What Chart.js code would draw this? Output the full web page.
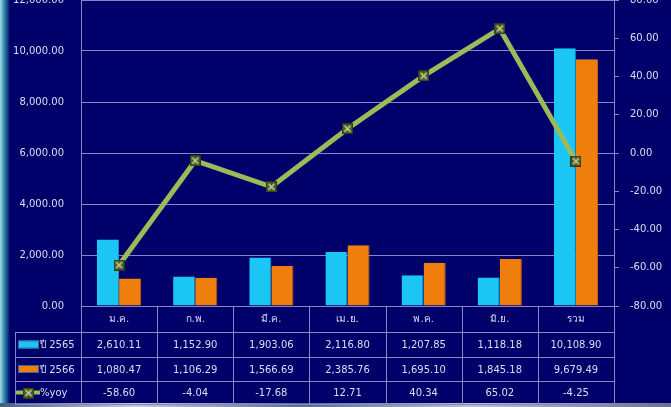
<!DOCTYPE html>
<html>
<head>
<meta charset="utf-8">
<script src="https://cdn.jsdelivr.net/npm/chart.js@4.4.1/dist/chart.umd.min.js"></script>
<style>
  html, body { margin: 0; padding: 0; }
  body { width: 671px; height: 407px; overflow: hidden; position: relative; background: #00006b; }
  #edge { position: absolute; left: 0; top: 0; width: 10px; height: 407px;
    background: linear-gradient(to right, #9fe0ec, #3a8fb0 40%, #0a3a80 80%, #00006b); }
  #bottom { position: absolute; left: 0; bottom: 0; width: 671px; height: 4px;
    background: linear-gradient(to right, #4a5a80, #c8c8d8 20%, #5a6a90 45%, #b8c0d0 70%, #6a7090); }
  #wrap { position: absolute; left: 0; top: -23px; width: 671px; height: 431px; }
</style>
</head>
<body>
<div id="edge"></div>
<div id="bottom"></div>
<div id="wrap"><canvas id="myChart"></canvas></div>
<script>
document.addEventListener('DOMContentLoaded', function(){
  var months = ['ม.ค.','ก.พ.','มี.ค.','เม.ย.','พ.ค.','มิ.ย.','รวม'];
  var y2565 = [2610.11, 1152.90, 1903.06, 2116.80, 1207.85, 1118.18, 10108.90];
  var y2566 = [1080.47, 1106.29, 1566.69, 2385.76, 1695.10, 1845.18, 9679.49];
  var yoy = [-58.60, -4.04, -17.68, 12.71, 40.34, 65.02, -4.25];
  var seriesNames = ['ปี 2565', 'ปี 2566', '%yoy'];

  var FONT = "'DejaVu Sans', 'Noto Sans', sans-serif";
  var textColor = '#dcdcf0';
  var lineColor = '#8585c8';

  function fmt(v) {
    return v.toLocaleString('en-US', {minimumFractionDigits: 2, maximumFractionDigits: 2});
  }

  // marker: dark square with a light X
  var mk = document.createElement('canvas');
  mk.width = 11; mk.height = 11;
  var m = mk.getContext('2d');
  m.fillStyle = '#4f5d2a';
  m.fillRect(0, 0, 11, 11);
  m.strokeStyle = '#2f3a16';
  m.strokeRect(0.5, 0.5, 10, 10);
  m.strokeStyle = '#c4d69a';
  m.lineWidth = 1.5;
  m.beginPath();
  m.moveTo(2.5, 2.5); m.lineTo(8.5, 8.5);
  m.moveTo(8.5, 2.5); m.lineTo(2.5, 8.5);
  m.stroke();

  // bar fill with a light top edge, like the original 3D bars
  function barFill(base, light) {
    return function(c) {
      var el = c.element;
      if (!el || el.y === undefined) return base;
      var g = c.chart.ctx.createLinearGradient(0, el.y, 0, el.y + 6);
      g.addColorStop(0, light);
      g.addColorStop(1, base);
      return g;
    };
  }

  var tablePlugin = {
    id: 'dataTable',
    afterDraw: function(chart) {
      var ctx = chart.ctx;
      var xs = chart.scales.x;
      var area = chart.chartArea;
      var n = months.length;
      var cw = (area.right - area.left) / n;
      var b = area.bottom;
      var rows = [b, b + 26, b + 51, b + 75, b + 98];
      var legendLeft = 15;
      ctx.save();
      ctx.strokeStyle = lineColor;
      ctx.lineWidth = 1;
      ctx.beginPath();
      for (var r = 1; r < rows.length; r++) {
        ctx.moveTo(legendLeft, rows[r] + 0.5);
        ctx.lineTo(area.right, rows[r] + 0.5);
      }
      for (var i = 0; i <= n; i++) {
        var vx = Math.round(area.left + i * cw) + 0.5;
        ctx.moveTo(vx, rows[0]);
        ctx.lineTo(vx, rows[4]);
      }
      ctx.moveTo(legendLeft + 0.5, rows[1]);
      ctx.lineTo(legendLeft + 0.5, rows[4]);
      ctx.stroke();

      ctx.fillStyle = textColor;
      ctx.font = '10px ' + FONT;
      ctx.textAlign = 'center';
      ctx.textBaseline = 'middle';
      var data = [y2565, y2566, yoy];
      for (var j = 0; j < n; j++) {
        var cx = xs.getPixelForValue(j);
        ctx.fillText(months[j], cx, (rows[0] + rows[1]) / 2);
        for (var k = 0; k < 3; k++) {
          ctx.fillText(fmt(data[k][j]), cx, (rows[k + 1] + rows[k + 2]) / 2 + 1);
        }
      }
      var cols = ['#1cc6f4', '#f07e0c'];
      for (var s = 0; s < 2; s++) {
        var my = (rows[s + 1] + rows[s + 2]) / 2;
        ctx.fillStyle = cols[s];
        ctx.fillRect(18, my - 4, 21, 8);
        ctx.strokeStyle = '#3a6a9a';
        ctx.strokeRect(18.5, my - 3.5, 20, 7);
      }
      var ly = (rows[3] + rows[4]) / 2;
      ctx.strokeStyle = '#9bbb59';
      ctx.lineWidth = 4;
      ctx.beginPath();
      ctx.moveTo(16, ly); ctx.lineTo(40, ly);
      ctx.stroke();
      ctx.drawImage(mk, 23, ly - 5);
      ctx.fillStyle = textColor;
      ctx.textAlign = 'left';
      for (var t = 0; t < 3; t++) {
        ctx.fillText(seriesNames[t], 40, (rows[t + 1] + rows[t + 2]) / 2 + 1);
      }
      ctx.restore();
    }
  };

  new Chart('myChart', {
    type: 'bar',
    data: {
      labels: months,
      datasets: [{
        label: seriesNames[0],
        data: y2565,
        backgroundColor: barFill('#1cc6f4', '#a8ecff'),
        borderColor: '#0e9ac8',
        borderWidth: {top: 0, left: 0, right: 1, bottom: 0},
        yAxisID: 'y',
        order: 2
      }, {
        label: seriesNames[1],
        data: y2566,
        backgroundColor: barFill('#f07e0c', '#ffc07a'),
        borderColor: '#c86008',
        borderWidth: {top: 0, left: 0, right: 1, bottom: 0},
        yAxisID: 'y',
        order: 2
      }, {
        type: 'line',
        label: seriesNames[2],
        data: yoy,
        borderColor: '#9bbb59',
        backgroundColor: '#9bbb59',
        borderWidth: 5,
        pointStyle: mk,
        pointRadius: 5,
        yAxisID: 'y1',
        tension: 0,
        fill: false,
        order: 0
      }]
    },
    options: {
      responsive: true,
      maintainAspectRatio: false,
      animation: false,
      layout: { padding: { left: 0, right: 0, top: 4, bottom: 102 } },
      datasets: { bar: { categoryPercentage: 0.58, barPercentage: 1.0 } },
      plugins: { legend: { display: false }, tooltip: { enabled: false } },
      scales: {
        x: { display: false },
        y: {
          position: 'left',
          min: 0, max: 12000,
          ticks: { stepSize: 2000, color: textColor, font: { family: FONT, size: 10 }, padding: 17,
                   callback: function(v) { return fmt(v); } },
          grid: { color: lineColor, tickLength: 0, drawTicks: false },
          border: { color: lineColor },
          afterFit: function(s) { s.width = 81; }
        },
        y1: {
          position: 'right',
          min: -80, max: 80,
          ticks: { stepSize: 20, color: textColor, font: { family: FONT, size: 10 }, padding: 11,
                   callback: function(v) { return fmt(v); } },
          grid: { drawOnChartArea: false, color: lineColor, tickLength: 5 },
          border: { color: lineColor },
          afterFit: function(s) { s.width = 57; }
        }
      }
    },
    plugins: [tablePlugin]
  });
});
</script>
</body>
</html>
